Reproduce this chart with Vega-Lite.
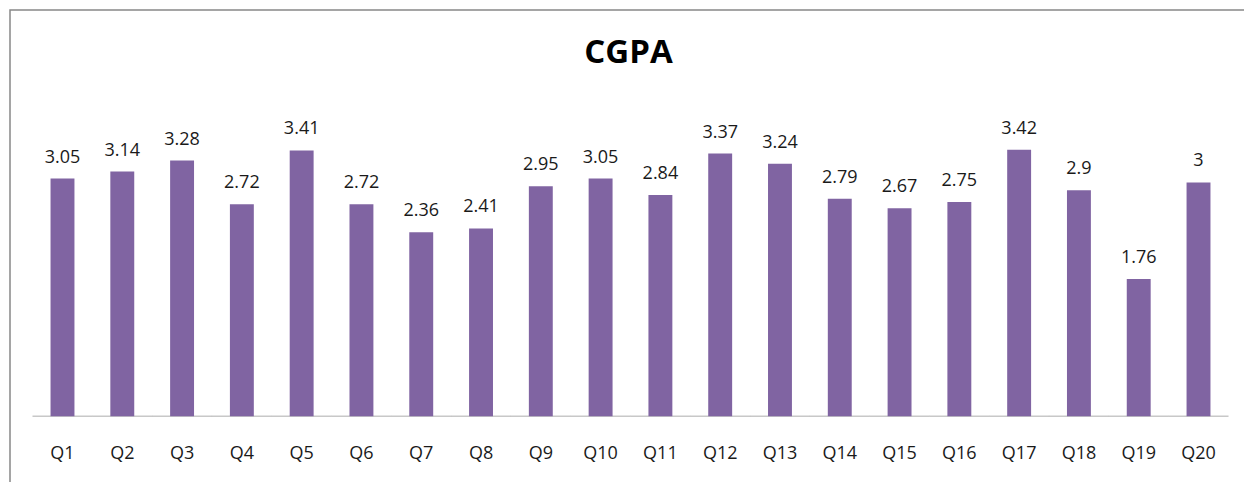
{
  "$schema": "https://vega.github.io/schema/vega-lite/v6.json",
  "width": 1237,
  "height": 475,
  "autosize": {"type": "none"},
  "padding": {"left": 10, "top": 10, "right": -3, "bottom": -3},
  "background": "white",
  "title": {
    "text": "CGPA",
    "anchor": "middle",
    "frame": "group",
    "font": "Open Sans",
    "fontSize": 33,
    "fontWeight": "bold",
    "color": "#000000",
    "baseline": "alphabetic",
    "offset": -54,
    "dy": 32
  },
  "config": {
    "view": {"stroke": "#888888", "strokeWidth": 1.5},
    "font": "Open Sans"
  },
  "data": {
    "values": [
      {"q": "Q1", "v": 3.05},
      {"q": "Q2", "v": 3.14},
      {"q": "Q3", "v": 3.28},
      {"q": "Q4", "v": 2.72},
      {"q": "Q5", "v": 3.41},
      {"q": "Q6", "v": 2.72},
      {"q": "Q7", "v": 2.36},
      {"q": "Q8", "v": 2.41},
      {"q": "Q9", "v": 2.95},
      {"q": "Q10", "v": 3.05},
      {"q": "Q11", "v": 2.84},
      {"q": "Q12", "v": 3.37},
      {"q": "Q13", "v": 3.24},
      {"q": "Q14", "v": 2.79},
      {"q": "Q15", "v": 2.67},
      {"q": "Q16", "v": 2.75},
      {"q": "Q17", "v": 3.42},
      {"q": "Q18", "v": 2.9},
      {"q": "Q19", "v": 1.76},
      {"q": "Q20", "v": 3}
    ]
  },
  "encoding": {
    "x": {
      "field": "q",
      "type": "nominal",
      "sort": null,
      "scale": {"paddingInner": 0.6, "paddingOuter": 0.6445, "align": 0.526},
      "axis": {
        "title": null,
        "domain": false,
        "ticks": false,
        "tickSize": 0,
        "grid": false,
        "labelAngle": 0,
        "labelPadding": 0,
        "offset": -26.7,
        "labelBaseline": "alphabetic",
        "labelFont": "Open Sans",
        "labelFontSize": 18,
        "labelColor": "#1a1a1a"
      }
    },
    "y": {
      "field": "v",
      "type": "quantitative",
      "scale": {"domain": [-0.881, 5.212], "nice": false, "zero": false},
      "axis": null
    }
  },
  "layer": [
    {
      "transform": [{"stack": "v", "groupby": ["q"], "as": ["v0", "v1"]}],
      "mark": {"type": "tick", "color": "#b0b0b0", "thickness": 1.5, "size": 60},
      "encoding": {
        "y": {"field": "v0", "type": "quantitative"}
      }
    },
    {
      "mark": {"type": "bar", "color": "#8064A2"}
    },
    {
      "mark": {"type": "text", "dy": -16, "baseline": "alphabetic", "fontSize": 18, "font": "Open Sans", "color": "#1a1a1a"},
      "encoding": {
        "text": {"field": "v", "type": "quantitative", "format": ".2~f"}
      }
    }
  ]
}
